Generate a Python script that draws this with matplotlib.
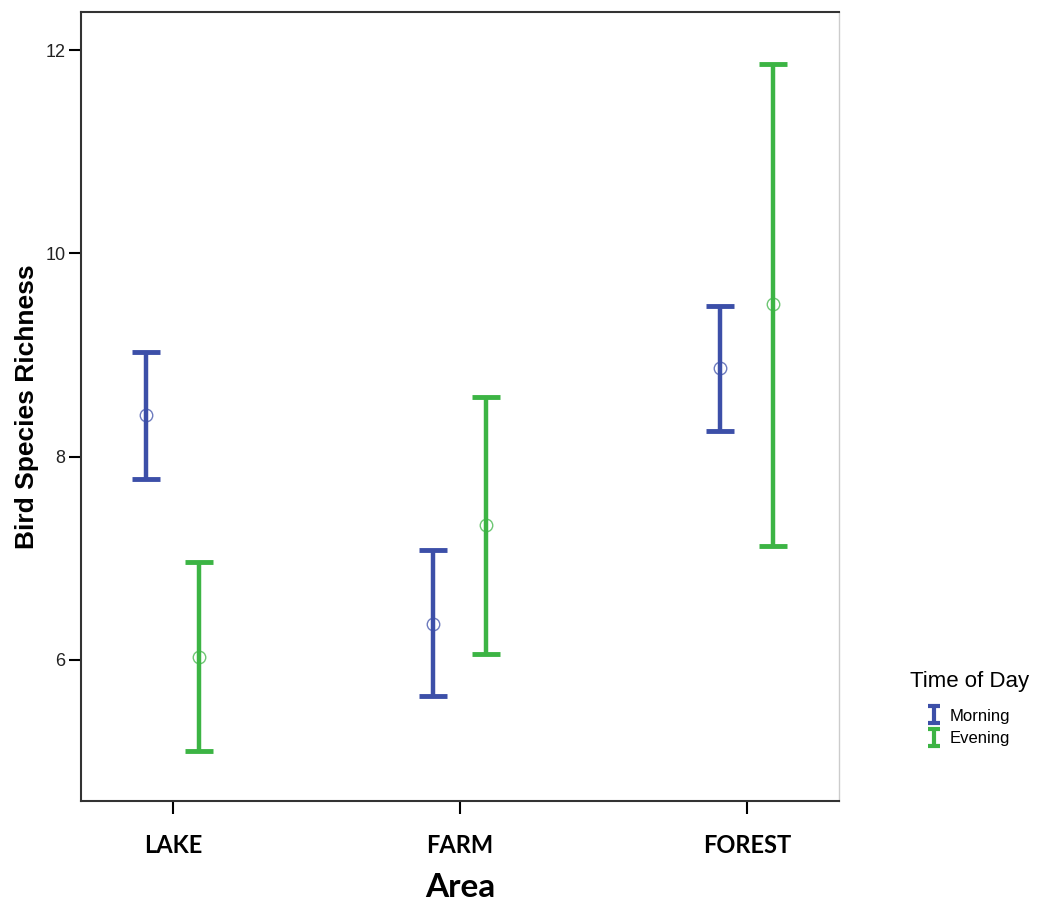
import numpy as np
import matplotlib.pyplot as plt

# Data (mean and 95% CI bounds)
areas = ["LAKE", "FARM", "FOREST"]
morning_mean = [8.41, 6.35, 8.87]
morning_low = [7.78, 5.64, 8.25]
morning_high = [9.03, 7.08, 9.48]
evening_mean = [6.03, 7.33, 9.50]
evening_low = [5.10, 6.06, 7.12]
evening_high = [6.96, 8.59, 11.87]

blue = "#3c4fa8"
green = "#3cb444"

fig = plt.figure(figsize=(10.38, 9.01), dpi=100)
ax = fig.add_axes([0.078, 0.111, 0.730, 0.876])

x = np.arange(len(areas))
off = 0.092

def draw(xpos, mean, low, high, color):
    mean = np.array(mean)
    yerr = [mean - np.array(low), np.array(high) - mean]
    ax.errorbar(xpos, mean, yerr=yerr, fmt="none", ecolor=color,
                elinewidth=3.2, capsize=10, capthick=3.5)
    ax.plot(xpos, mean, "o", mfc="none", mec=color, mew=1.0, ms=9, alpha=0.75)

draw(x - off, morning_mean, morning_low, morning_high, blue)
draw(x + off, evening_mean, evening_low, evening_high, green)

# small I-beam handles for the legend
h1 = ax.errorbar([np.nan], [np.nan], yerr=[1], fmt="none", ecolor=blue,
                 elinewidth=3, capsize=4.5, capthick=3)
h2 = ax.errorbar([np.nan], [np.nan], yerr=[1], fmt="none", ecolor=green,
                 elinewidth=3, capsize=4.5, capthick=3)

ax.set_xlim(-0.32, 2.32)
ax.set_ylim(4.61, 12.38)
ax.set_yticks([6, 8, 10, 12])
ax.set_yticklabels(["6", "8", "10", "12"], fontsize=13, family="Liberation Sans", color="#222222")
ax.set_xticks(x)
ax.set_xticklabels(areas, fontsize=17, fontweight="bold", family="Lato")
ax.tick_params(axis="y", length=9, width=1.5, pad=2)
ax.tick_params(axis="x", length=9, width=1.5, pad=15)

for side in ["left", "bottom", "top"]:
    ax.spines[side].set_linewidth(1.5)
    ax.spines[side].set_color("#333333")
ax.spines["right"].set_linewidth(1.0)
ax.spines["right"].set_color("#cccccc")

ax.set_ylabel("Bird Species Richness", fontsize=19, fontweight="bold",
              family="Liberation Sans", labelpad=5)
ax.set_xlabel("Area", fontsize=24, fontweight="bold", family="Lato", labelpad=11)

leg = fig.legend(handles=[h1, h2], labels=["Morning", "Evening"],
                 title="Time of Day", loc="upper left",
                 bbox_to_anchor=(0.862, 0.272), frameon=False,
                 prop={"family": "Liberation Sans", "size": 12},
                 handlelength=0.7, handletextpad=0.6, labelspacing=0.45)
leg.get_title().set_fontsize(16)
leg.get_title().set_family("Liberation Sans")
leg._legend_box.sep = 12

fig.savefig("out.png", dpi=100)
